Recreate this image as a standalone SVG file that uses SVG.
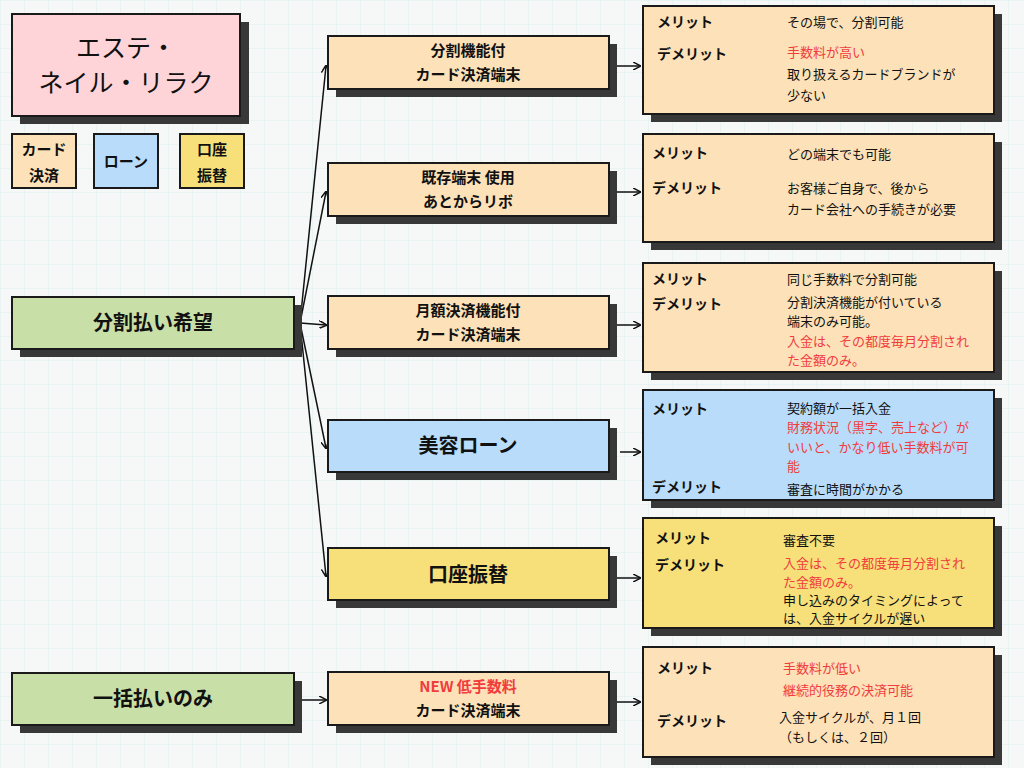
<svg xmlns="http://www.w3.org/2000/svg" width="1024" height="768" viewBox="0 0 1024 768">
<defs>
<pattern id="grid" width="24" height="24" patternUnits="userSpaceOnUse"><path d="M24 0H0V24" fill="none" stroke="#dbeeee" stroke-width="1"/></pattern>
<marker id="ah" markerWidth="8" markerHeight="8" refX="7" refY="4" orient="auto" markerUnits="userSpaceOnUse"><path d="M0 0L8 4L0 8" fill="none" stroke="#111" stroke-width="1.5"/></marker>
</defs>
<style>
.sh{fill:#383838}
.b{stroke:#1a1a1a;stroke-width:2}
.p{fill:#fed4d8}.o{fill:#fde1b8}.bl{fill:#b8dcf9}.y{fill:#f7e07a}.g{fill:#c9dfa8}
text{font-family:"Noto Sans CJK JP","Noto Sans",sans-serif;fill:#111}
.m{font-size:15px;font-weight:bold;text-anchor:middle}
.l{font-size:20px;font-weight:bold;text-anchor:middle}
.k{font-size:14px;font-weight:bold}
.v{font-size:13px}
.r{fill:#f03c3c}
.c{fill:none;stroke:#111;stroke-width:1.5;marker-end:url(#ah)}
</style>
<rect width="1024" height="768" fill="#f6f8f8"/>
<rect width="1024" height="768" fill="url(#grid)"/>
<g id="title"><rect class="sh" x="20" y="22" width="229" height="102"/><rect class="b p" x="12" y="14" width="228" height="102"/>
<text x="126" y="57" style="font-size:25px;text-anchor:middle">エステ・</text><text x="126" y="92" style="font-size:25px;text-anchor:middle">ネイル・リラク</text></g>
<g id="leg1"><rect class="b o" x="12" y="134" width="64" height="54"/><text class="m" x="44" y="155">カード</text><text class="m" x="44" y="181">決済</text></g>
<g id="leg2"><rect class="b bl" x="94" y="134" width="64" height="54"/><text class="m" x="126" y="167">ローン</text></g>
<g id="leg3"><rect class="b y" x="180" y="134" width="64" height="54"/><text class="m" x="212" y="155">口座</text><text class="m" x="212" y="181">振替</text></g>
<g id="connectors">
<path class="c" d="M300 323L326 66"/><path class="c" d="M300 323L326 192"/><path class="c" d="M300 323L326 325"/><path class="c" d="M300 323L326 448"/><path class="c" d="M300 323L326 576"/><path class="c" d="M300 700L326 700"/>
<path class="c" d="M614 66L640 66"/><path class="c" d="M614 192L640 192"/><path class="c" d="M614 325L640 325"/><path class="c" d="M620 452L640 452"/><path class="c" d="M614 578L640 578"/><path class="c" d="M614 702L640 702"/>
</g>
<g id="n_bunkatsu"><rect class="sh" x="20" y="305" width="282" height="52"/><rect class="b g" x="12" y="297" width="282" height="52"/><text class="l" x="153" y="330">分割払い希望</text></g>
<g id="n_ikkatsu"><rect class="sh" x="20" y="681" width="282" height="52"/><rect class="b g" x="12" y="673" width="282" height="52"/><text class="l" x="153" y="706">一括払いのみ</text></g>
<g id="m1"><rect class="sh" x="336" y="44" width="281" height="53"/><rect class="b o" x="328" y="36" width="281" height="53"/><text class="m" x="468" y="56">分割機能付</text><text class="m" x="468" y="80">カード決済端末</text></g>
<g id="m2"><rect class="sh" x="336" y="171" width="281" height="53"/><rect class="b o" x="328" y="163" width="281" height="53"/><text class="m" x="468" y="183">既存端末 使用</text><text class="m" x="468" y="207">あとからリボ</text></g>
<g id="m3"><rect class="sh" x="336" y="304" width="281" height="53"/><rect class="b o" x="328" y="296" width="281" height="53"/><text class="m" x="468" y="316">月額決済機能付</text><text class="m" x="468" y="340">カード決済端末</text></g>
<g id="m4"><rect class="sh" x="336" y="428" width="281" height="52"/><rect class="b bl" x="328" y="420" width="281" height="52"/><text class="l" x="468" y="453">美容ローン</text></g>
<g id="m5"><rect class="sh" x="336" y="556" width="281" height="52"/><rect class="b y" x="328" y="548" width="281" height="52"/><text class="l" x="468" y="582">口座振替</text></g>
<g id="m6"><rect class="sh" x="336" y="680" width="281" height="53"/><rect class="b o" x="328" y="672" width="281" height="53"/><text class="m r" x="468" y="692">NEW 低手数料</text><text class="m" x="468" y="716">カード決済端末</text></g>
<g id="r1"><rect class="sh" x="651" y="14" width="351" height="108"/><rect class="b o" x="643" y="6" width="351" height="108"/>
<text class="k" x="657" y="27">メリット</text><text class="v" x="787" y="27">その場で、分割可能</text>
<text class="k" x="657" y="59">デメリット</text><text class="v r" x="787" y="57">手数料が高い</text><text class="v" x="787" y="79">取り扱えるカードブランドが</text><text class="v" x="787" y="100">少ない</text></g>
<g id="r2"><rect class="sh" x="651" y="142" width="351" height="108"/><rect class="b o" x="643" y="134" width="351" height="108"/>
<text class="k" x="652" y="158">メリット</text><text class="v" x="787" y="159">どの端末でも可能</text>
<text class="k" x="652" y="193">デメリット</text><text class="v" x="787" y="193">お客様ご自身で、後から</text><text class="v" x="787" y="214">カード会社への手続きが必要</text></g>
<g id="r3"><rect class="sh" x="651" y="271" width="351" height="109"/><rect class="b o" x="643" y="263" width="351" height="109"/>
<text class="k" x="652" y="284">メリット</text><text class="v" x="787" y="284">同じ手数料で分割可能</text>
<text class="k" x="652" y="309">デメリット</text><text class="v" x="787" y="307">分割決済機能が付いている</text><text class="v" x="787" y="326">端末のみ可能。</text><text class="v r" x="787" y="346">入金は、その都度毎月分割され</text><text class="v r" x="787" y="365">た金額のみ。</text></g>
<g id="r4"><rect class="sh" x="651" y="398" width="351" height="110"/><rect class="b bl" x="643" y="390" width="351" height="110"/>
<text class="k" x="652" y="414">メリット</text><text class="v" x="787" y="413">契約額が一括入金</text><text class="v r" x="787" y="432">財務状況（黒字、売上など）が</text><text class="v r" x="787" y="452">いいと、かなり低い手数料が可</text><text class="v r" x="787" y="471">能</text>
<text class="k" x="652" y="492">デメリット</text><text class="v" x="787" y="494">審査に時間がかかる</text></g>
<g id="r5"><rect class="sh" x="651" y="526" width="351" height="110"/><rect class="b y" x="643" y="518" width="351" height="110"/>
<text class="k" x="655" y="543">メリット</text><text class="v" x="783" y="545">審査不要</text>
<text class="k" x="655" y="570">デメリット</text><text class="v r" x="783" y="568">入金は、その都度毎月分割され</text><text class="v r" x="783" y="587">た金額のみ。</text><text class="v" x="783" y="605">申し込みのタイミングによって</text><text class="v" x="783" y="623">は、入金サイクルが遅い</text></g>
<g id="r6"><rect class="sh" x="651" y="655" width="351" height="110"/><rect class="b o" x="643" y="647" width="351" height="110"/>
<text class="k" x="657" y="673">メリット</text><text class="v r" x="783" y="673">手数料が低い</text><text class="v r" x="783" y="695">継続的役務の決済可能</text>
<text class="k" x="657" y="726">デメリット</text><text class="v" x="779" y="722">入金サイクルが、月１回</text><text class="v" x="779" y="742">（もしくは、２回）</text></g>
</svg>
